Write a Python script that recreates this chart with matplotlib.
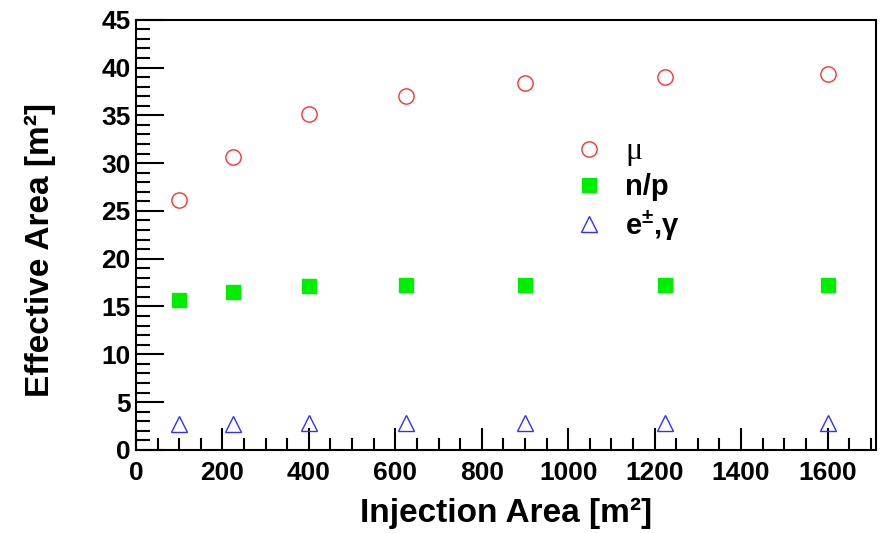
import matplotlib
matplotlib.use('Agg')
import matplotlib.pyplot as plt
from matplotlib.ticker import MultipleLocator

plt.rcParams['font.family'] = ['Liberation Sans', 'DejaVu Sans']
plt.rcParams['mathtext.fontset'] = 'custom'
plt.rcParams['mathtext.rm'] = 'Liberation Sans:bold'
plt.rcParams['mathtext.bf'] = 'Liberation Sans:bold'

# Injection area [m^2] and effective areas [m^2]
injection_area = [100, 225, 400, 625, 900, 1225, 1600]
eff_mu = [26.1, 30.6, 35.1, 37.0, 38.4, 39.0, 39.3]
eff_np = [15.7, 16.5, 17.1, 17.2, 17.2, 17.2, 17.2]
eff_eg = [2.7, 2.7, 2.8, 2.8, 2.8, 2.8, 2.8]

fig = plt.figure(figsize=(8.83, 5.33), dpi=100)
ax = fig.add_axes([0.154, 0.156, 0.838, 0.807])

ax.plot(injection_area, eff_mu, linestyle='none', marker='o', markersize=11,
        markerfacecolor='none', markeredgecolor='#ff3030', markeredgewidth=1.0, label='μ')
ax.plot(injection_area, eff_np, linestyle='none', marker='s', markersize=10,
        markerfacecolor='#00ee00', markeredgecolor='#00ee00', label='n/p')
ax.plot(injection_area, eff_eg, linestyle='none', marker='^', markersize=11,
        markerfacecolor='none', markeredgecolor='#3030ff', markeredgewidth=1.0,
        label='e$^{\\pm}$,γ')

ax.set_xlim(0, 1712)
ax.set_ylim(0, 45)

ax.xaxis.set_major_locator(MultipleLocator(200))
ax.xaxis.set_minor_locator(MultipleLocator(50))
ax.yaxis.set_major_locator(MultipleLocator(5))
ax.yaxis.set_minor_locator(MultipleLocator(1))

ax.tick_params(axis='both', which='both', direction='in', top=False, right=False, width=1.5)
ax.tick_params(axis='y', which='major', length=20, pad=4, labelsize=19)
ax.tick_params(axis='y', which='minor', length=10)
ax.tick_params(axis='x', which='major', length=16, pad=8, labelsize=19)
ax.tick_params(axis='x', which='minor', length=8.5)
for lab in ax.get_xticklabels() + ax.get_yticklabels():
    lab.set_fontweight('bold')
for sp in ax.spines.values():
    sp.set_linewidth(1.5)

ax.set_xlabel('Injection Area [m²]', fontsize=24, fontweight='bold')
ax.set_ylabel('Effective Area [m²]', fontsize=24, fontweight='bold')
ax.xaxis.set_label_coords(0.5, -0.112)
ax.yaxis.set_label_coords(-0.108, 0.465)

leg = ax.legend(loc='upper left', bbox_to_anchor=(0.592, 0.728), frameon=False,
                fontsize=21, handlelength=1.0, handletextpad=0.75, labelspacing=0.25,
                borderpad=0, borderaxespad=0)
texts = leg.get_texts()
texts[0].set_fontfamily('Liberation Serif')
texts[0].set_fontsize(23)
texts[1].set_fontweight('bold')
texts[2].set_fontweight('bold')

fig.savefig('out.png', dpi=100)
